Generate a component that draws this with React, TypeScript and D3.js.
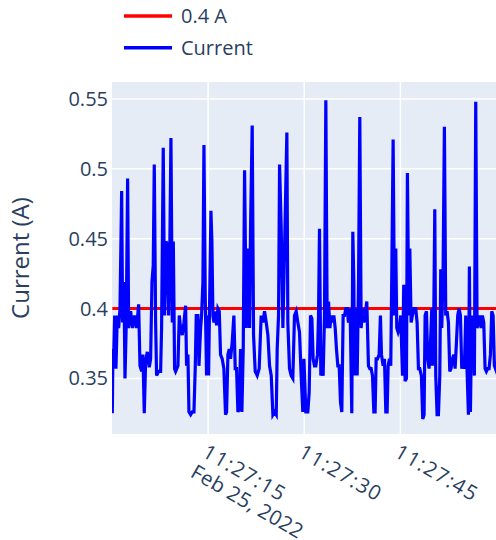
import React from "react";
import * as d3 from "d3";

// seconds after 11:27:00 on Feb 25, 2022
const seconds = [
  0.05, 0.15, 0.26, 0.42, 0.62, 0.83, 1.04, 1.25, 1.51, 1.66, 1.87, 2.03, 2.23, 2.44, 2.6, 2.91, 3.22, 3.53, 3.85, 4.16,
  4.37, 4.63, 4.83, 5.04, 5.25, 5.51, 5.82, 6.03, 6.24, 6.44, 6.6, 6.81, 6.96, 7.28, 7.59, 7.74, 8.0, 8.21, 8.42, 8.63,
  8.84, 9.04, 9.2, 9.41, 9.57, 9.77,
  9.93, 10.29, 10.5, 10.71, 10.97, 11.23, 11.49, 11.64, 11.85, 12.01, 12.27, 12.53, 12.79, 13.0, 13.15, 13.41, 13.57,
  13.83, 13.98, 14.19, 14.35, 14.55, 14.76, 14.87, 15.07, 15.28, 15.44, 15.59, 15.75, 15.91, 16.11, 16.32, 16.53, 16.74,
  16.94, 17.2, 17.46, 17.72, 17.88, 18.09, 18.3, 18.5, 18.76, 19.02, 19.23, 19.44, 19.65, 19.86,
  20.06, 20.27, 20.48, 20.69, 20.95, 21.21, 21.47, 21.62, 21.88, 22.09, 22.35, 22.66, 22.97, 23.28, 23.54, 23.81, 24.07,
  24.33, 24.59, 24.85, 25.11, 25.36, 25.63, 25.78, 25.99, 26.15, 26.4, 26.67, 26.93, 27.29, 27.44, 27.7, 27.96, 28.22,
  28.48, 28.74, 29.0, 29.26, 29.52, 29.78,
  29.95, 30.25, 30.56, 30.77, 30.98, 31.19, 31.39, 31.6, 31.81, 32.07, 32.23, 32.38, 32.59, 32.75, 32.95, 33.16, 33.37,
  33.58, 33.79, 34.0, 34.2, 34.41, 34.62, 34.83, 35.03, 35.24, 35.45, 35.66, 35.86, 36.07, 36.28, 36.49, 36.7, 36.9,
  37.16, 37.42, 37.58, 37.74, 37.84, 38.05, 38.26, 38.47, 38.67, 38.88, 39.09, 39.3, 39.5, 39.76,
  39.87, 40.02, 40.23, 40.44, 40.65, 40.86, 41.06, 41.22, 41.43, 41.69, 41.89, 42.05, 42.31, 42.52, 42.73, 42.93, 43.09,
  43.3, 43.5, 43.66, 43.87, 44.08, 44.28, 44.44, 44.65, 44.86, 45.06, 45.33, 45.53, 45.74, 45.95, 46.1, 46.31, 46.47,
  46.68, 46.88, 47.14, 47.4, 47.61, 47.82, 48.02, 48.28, 48.49, 48.7, 48.86, 49.07, 49.27, 49.48, 49.69, 49.9,
  50.01, 50.21, 50.37, 50.52, 50.73, 50.94, 51.15, 51.3, 51.46, 51.67, 51.87, 52.08, 52.29, 52.5, 52.71, 52.91, 53.12,
  53.33, 53.54, 53.75, 53.95, 54.16, 54.37, 54.58, 54.79, 54.99, 55.2, 55.41, 55.62, 55.77, 55.93, 56.14, 56.34, 56.55,
  56.76, 56.97, 57.18, 57.39, 57.59, 57.8, 58.01, 58.22, 58.42, 58.63, 58.84, 59.05, 59.26, 59.47, 59.67, 59.83, 60.0,
];

const current = [
  0.325, 0.371, 0.364, 0.395, 0.357, 0.395, 0.386, 0.4, 0.484, 0.39, 0.419, 0.35, 0.39, 0.493, 0.386, 0.398, 0.386, 0.395, 0.386, 0.403,
  0.359, 0.355, 0.367, 0.325, 0.362, 0.369, 0.358, 0.364, 0.419, 0.431, 0.503, 0.39, 0.352, 0.355, 0.355, 0.386, 0.515, 0.395, 0.448, 0.446,
  0.395, 0.45, 0.522, 0.39, 0.448, 0.357,
  0.355, 0.359, 0.395, 0.386, 0.381, 0.39, 0.402, 0.359, 0.367, 0.326, 0.324, 0.326, 0.326, 0.359, 0.395, 0.395, 0.359,
  0.386, 0.395, 0.419, 0.517, 0.409, 0.352, 0.395, 0.352, 0.419, 0.47, 0.448, 0.395, 0.39, 0.398, 0.388, 0.4, 0.398,
  0.367, 0.364, 0.357, 0.324, 0.326, 0.367, 0.371, 0.364, 0.376, 0.395, 0.357, 0.357, 0.326, 0.328,
  0.371, 0.326, 0.371, 0.499, 0.386, 0.443, 0.386, 0.457, 0.531, 0.381, 0.355, 0.352, 0.357, 0.395, 0.39, 0.398, 0.39,
  0.381, 0.359, 0.352, 0.324, 0.326, 0.324, 0.371, 0.395, 0.503, 0.459, 0.386, 0.443, 0.526, 0.39, 0.357, 0.352, 0.35,
  0.395, 0.398, 0.39, 0.383, 0.352, 0.326,
  0.364, 0.326, 0.326, 0.34, 0.395, 0.393, 0.364, 0.359, 0.359, 0.367, 0.395, 0.457, 0.352, 0.355, 0.352, 0.395, 0.549,
  0.386, 0.405, 0.386, 0.395, 0.39, 0.395, 0.386, 0.371, 0.359, 0.359, 0.333, 0.326, 0.395, 0.395, 0.4, 0.4, 0.39,
  0.4, 0.325, 0.455, 0.419, 0.352, 0.4, 0.352, 0.419, 0.537, 0.386, 0.4, 0.39, 0.395, 0.405,
  0.386, 0.359, 0.357, 0.357, 0.352, 0.326, 0.326, 0.364, 0.364, 0.367, 0.395, 0.367, 0.359, 0.364, 0.326, 0.326, 0.359,
  0.364, 0.359, 0.424, 0.521, 0.395, 0.443, 0.386, 0.383, 0.386, 0.395, 0.352, 0.417, 0.348, 0.35, 0.497, 0.395, 0.443,
  0.39, 0.395, 0.4, 0.4, 0.39, 0.357, 0.357, 0.352, 0.321, 0.324, 0.395, 0.398, 0.364, 0.357, 0.374, 0.4,
  0.359, 0.395, 0.471, 0.352, 0.324, 0.324, 0.352, 0.428, 0.386, 0.428, 0.53, 0.395, 0.398, 0.39, 0.355, 0.357, 0.364,
  0.367, 0.357, 0.376, 0.395, 0.4, 0.395, 0.357, 0.362, 0.357, 0.395, 0.355, 0.324, 0.43, 0.326, 0.395, 0.386, 0.352,
  0.548, 0.386, 0.39, 0.395, 0.386, 0.395, 0.39, 0.357, 0.355, 0.357, 0.357, 0.367, 0.398, 0.395, 0.359, 0.357, 0.362,
];

const threshold = 0.4;
const yTicks = [0.35, 0.4, 0.45, 0.5, 0.55];
const seriesNames = ["0.4 A", "Current"];
const seriesColors = ["#ff0000", "#0000ff"];

const W = 496;
const H = 540;
const plot = { left: 112, top: 82, right: 496, bottom: 434 };
const font = '"Open Sans", verdana, arial, sans-serif';
const textColor = "#2a3f5f";

const App = () => {
  const start = new Date(2022, 1, 25, 11, 27, 0).getTime();
  const data = seconds.map((s, i) => ({ t: new Date(start + s * 1000), v: current[i] }));

  const x = d3
    .scaleTime()
    .domain(d3.extent(data, (d) => d.t) as [Date, Date])
    .range([plot.left + 0.3, plot.right + 0.5]);
  const y = d3.scaleLinear().domain([0.3102, 0.5621]).range([plot.bottom, plot.top]);

  const xTicks = x.ticks(d3.timeSecond.every(15)!).filter((d) => x(d) > plot.left + 5 && x(d) < plot.right - 5);
  const fmt = d3.timeFormat("%H:%M:%S");

  const line = d3
    .line<{ t: Date; v: number }>()
    .x((d) => x(d.t))
    .y((d) => y(d.v));

  const [t0, t1] = x.domain();
  const redPath = line([
    { t: t0, v: threshold },
    { t: t1, v: threshold },
  ]);

  return (
    <svg
      width={W}
      height={H}
      style={{ position: "absolute", left: 0, top: 0, fontFamily: font }}
    >
      <rect x={0} y={0} width={W} height={H} fill='#fff' />
      <rect
        x={plot.left}
        y={plot.top}
        width={plot.right - plot.left}
        height={plot.bottom - plot.top}
        fill='#E5ECF6'
      />
      <defs>
        <clipPath id='plotclip'>
          <rect
            x={plot.left}
            y={plot.top}
            width={plot.right - plot.left}
            height={plot.bottom - plot.top}
          />
        </clipPath>
      </defs>

      {/* grid */}
      {yTicks.map((v) => (
        <line
          key={"gy" + v}
          x1={plot.left}
          x2={plot.right}
          y1={y(v)}
          y2={y(v)}
          stroke='#fff'
          strokeWidth={1.5}
        />
      ))}
      {xTicks.map((d) => (
        <line
          key={"gx" + d.getTime()}
          x1={x(d)}
          x2={x(d)}
          y1={plot.top}
          y2={plot.bottom}
          stroke='#fff'
          strokeWidth={1.5}
        />
      ))}

      <g clipPath='url(#plotclip)'>
        <path d={redPath || ""} fill='none' stroke={seriesColors[0]} strokeWidth={3} />
        <path d={line(data) || ""} fill='none' stroke={seriesColors[1]} strokeWidth={3.2} />
      </g>

      {/* y axis labels */}
      {yTicks.map((v) => (
        <text
          key={"ty" + v}
          x={plot.left - 4}
          y={y(v)}
          dy='0.35em'
          textAnchor='end'
          fontSize={20}
          fill={textColor}
        >
          {String(v)}
        </text>
      ))}
      <text
        transform={`translate(29,${(plot.top + plot.bottom) / 2}) rotate(-90)`}
        textAnchor='middle'
        fontSize={24}
        fill={textColor}
      >
        Current (A)
      </text>

      {/* x axis labels, rotated 30deg */}
      {xTicks.map((d, i) => (
        <text
          key={"tx" + d.getTime()}
          transform={`translate(${x(d) - 7},456) rotate(30)`}
          fontSize={20.5}
          fill={textColor}
        >
          <tspan x={0} y={0} letterSpacing={1.4}>
            {fmt(d)}
          </tspan>
          {i === 0 && (
            <tspan x={0} dy={23.5} letterSpacing={0.4}>
              {d3.timeFormat("%b %-d, %Y")(d)}
            </tspan>
          )}
        </text>
      ))}

      {/* legend */}
      {seriesNames.map((name, i) => (
        <g key={name} transform={`translate(0,${16 + i * 31.7})`}>
          <line x1={124} x2={172} y1={0} y2={0} stroke={seriesColors[i]} strokeWidth={3.5} />
          <text x={181} y={0} dy='0.35em' fontSize={20} fill={textColor}>
            {name}
          </text>
        </g>
      ))}
    </svg>
  );
};

export default App;
